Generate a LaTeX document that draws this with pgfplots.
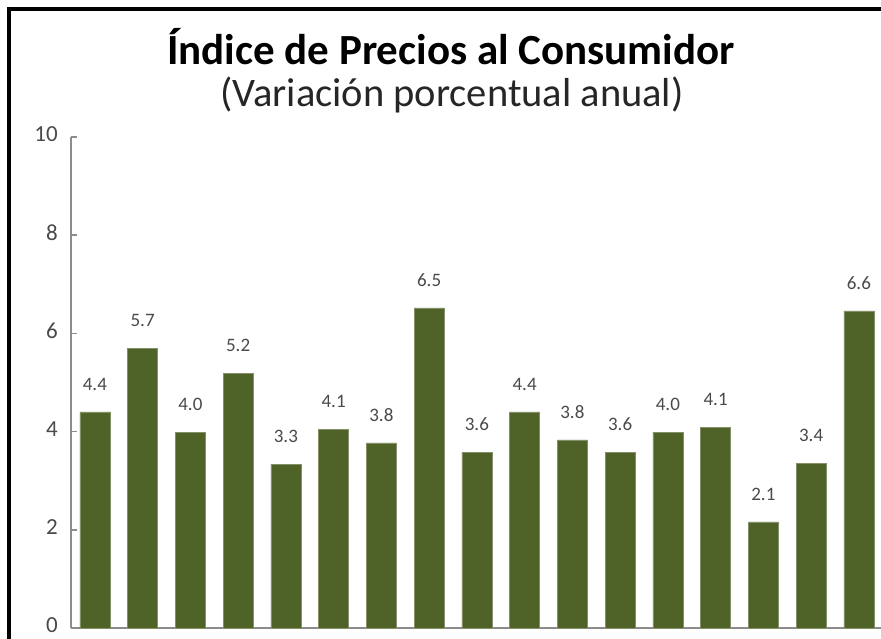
\documentclass[border=0pt]{standalone}
\usepackage{pgfplots}
\pgfplotsset{compat=1.18}
\usepackage{pgfplotstable}
\usepackage{fontspec}
\setmainfont{Carlito}
\definecolor{barg}{HTML}{4F6228}
\definecolor{txt}{HTML}{4A4A4A}
\definecolor{axg}{HTML}{8C8C8C}
\pgfplotstableread{
x y lab
0 4.40 4.4
1 5.70 5.7
2 3.99 4.0
3 5.19 5.2
4 3.34 3.3
5 4.05 4.1
6 3.77 3.8
7 6.52 6.5
8 3.58 3.6
9 4.40 4.4
10 3.83 3.8
11 3.58 3.6
12 3.99 4.0
13 4.09 4.1
14 2.16 2.1
15 3.36 3.4
16 6.46 6.6
}\datatable
\begin{document}
\begin{tikzpicture}[x=1pt,y=1pt]
\useasboundingbox (0,0) rectangle (881,639);
\begin{scope}
\clip (0,0) rectangle (881,639);
\fill[white] (0,0) rectangle (881,639);
\draw[line width=4pt] (9,-20) -- (9,630) -- (900,630);
\node[font=\fontsize{43}{46}\selectfont\bfseries] at (451,592) {Índice de Precios al Consumidor};
\node[font=\fontsize{40.5}{44}\selectfont, text=black!85] at (452,544) {(Variación porcentual anual)};
\begin{axis}[
  at={(71pt,11pt)}, anchor=south west,
  scale only axis, width=811.75pt, height=491pt,
  xmin=-0.5, xmax=16.5, ymin=0, ymax=10,
  axis x line=bottom, axis y line=left,
  axis line style={-, draw=axg, line width=2.2pt},
  xtick=\empty,
  ytick={0,2,4,6,8,10},
  tick align=inside,
  major tick length=6pt,
  y tick style={draw=axg, line width=1.5pt},
  yticklabel style={font=\fontsize{23}{23}\selectfont, text=txt, xshift=-12pt, yshift=2.5pt, inner sep=1pt},
  /pgf/number format/assume math mode=true,
  clip=false,
]
\addplot[ybar, bar width=30pt, fill=barg, draw=barg!70!white, line width=0.6pt,
  point meta=explicit symbolic,
  nodes near coords={\pgfplotspointmeta},
  every node near coord/.append style={font=\fontsize{19}{19}\selectfont, text=txt, anchor=south, inner sep=0pt, yshift=21pt}]
  table[x=x, y=y, meta=lab] {\datatable};
\end{axis}
\end{scope}
\end{tikzpicture}
\end{document}
